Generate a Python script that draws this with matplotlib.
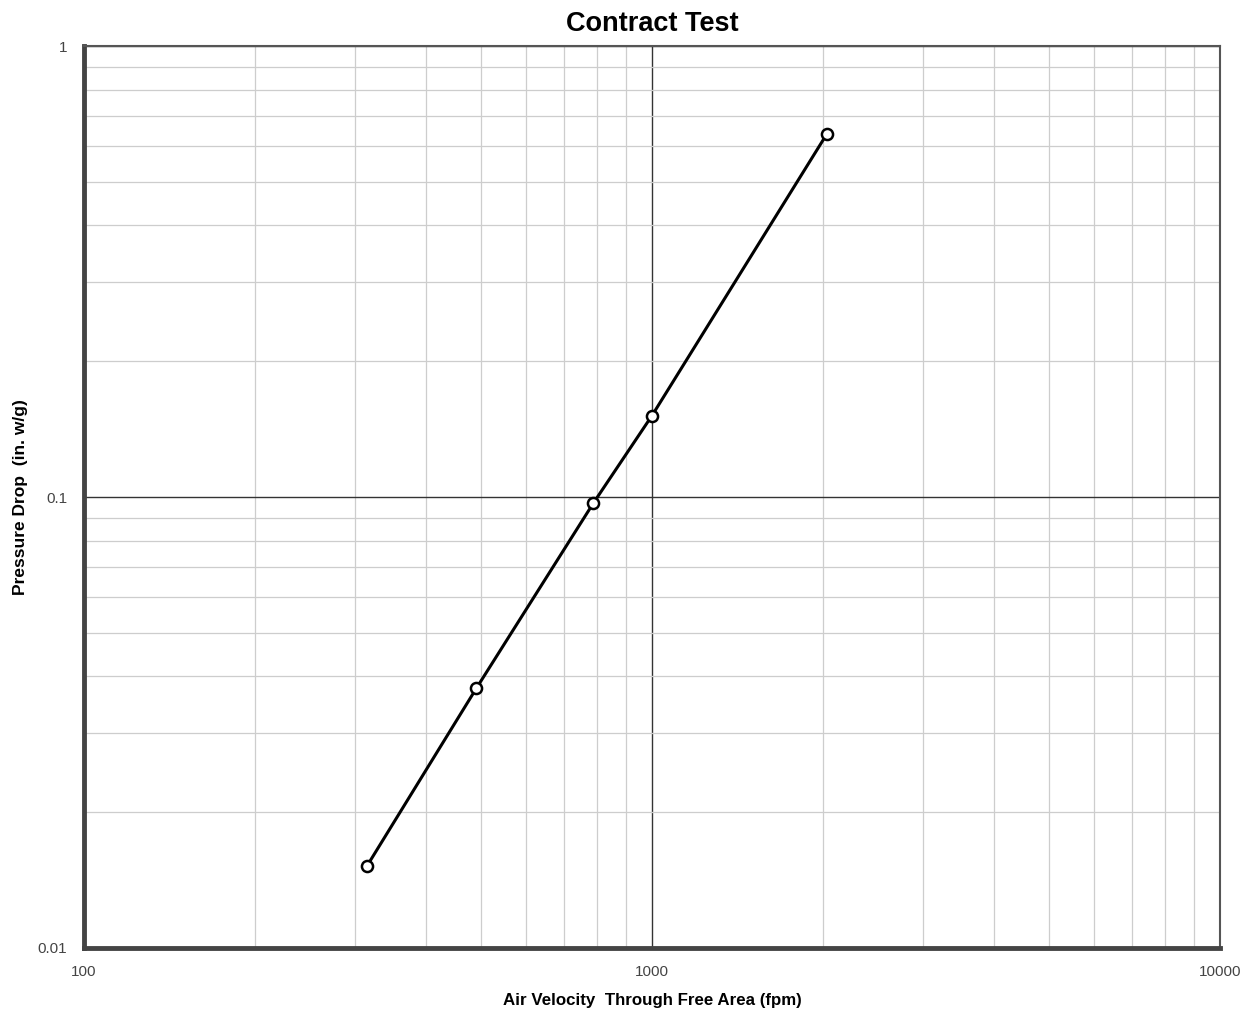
import matplotlib
matplotlib.use("Agg")
import matplotlib.pyplot as plt
from matplotlib.ticker import LogLocator, NullFormatter, FixedLocator, FixedFormatter

plt.rcParams["font.family"] = ["Liberation Sans", "DejaVu Sans"]

# Air velocity (fpm) and pressure drop (in. w/g)
velocity = [315, 491, 788, 1000, 2030]
pressure_drop = [0.0152, 0.0377, 0.0968, 0.1515, 0.637]

x_ticks = [100, 1000, 10000]
x_tick_labels = ["100", "1000", "10000"]
y_ticks = [0.01, 0.1, 1]
y_tick_labels = ["0.01", "0.1", "1"]

fig = plt.figure(figsize=(12.51, 10.14), dpi=100)
ax = fig.add_axes([0.0671, 0.0651, 0.9081, 0.8895])

ax.set_xscale("log")
ax.set_yscale("log")
ax.set_xlim(100, 10000)
ax.set_ylim(0.01, 1)

# grid: light minor, dark major
ax.xaxis.set_minor_locator(LogLocator(base=10, subs=range(2, 10)))
ax.yaxis.set_minor_locator(LogLocator(base=10, subs=range(2, 10)))
ax.xaxis.set_minor_formatter(NullFormatter())
ax.yaxis.set_minor_formatter(NullFormatter())
ax.grid(True, which="minor", color="#cdcdcd", linewidth=0.9)
ax.grid(True, which="major", color="#333333", linewidth=1.0)
ax.set_axisbelow(True)

ax.xaxis.set_major_locator(FixedLocator(x_ticks))
ax.xaxis.set_major_formatter(FixedFormatter(x_tick_labels))
ax.yaxis.set_major_locator(FixedLocator(y_ticks))
ax.yaxis.set_major_formatter(FixedFormatter(y_tick_labels))
ax.tick_params(which="both", length=0)
ax.tick_params(axis="x", pad=12, labelsize=11, labelcolor="#444444")
ax.tick_params(axis="y", pad=12, labelsize=11, labelcolor="#444444")

for side in ["left", "bottom"]:
    ax.spines[side].set_linewidth(3.5)
    ax.spines[side].set_color("#444444")
for side in ["top", "right"]:
    ax.spines[side].set_linewidth(1.5)
    ax.spines[side].set_color("#555555")

ax.plot(velocity, pressure_drop, color="black", linewidth=2.2,
        marker="o", markersize=8, markerfacecolor="white",
        markeredgecolor="black", markeredgewidth=1.8, zorder=5)

ax.set_title("Contract Test", fontsize=19.5, fontweight="bold", pad=11)
ax.set_xlabel("Air Velocity  Through Free Area (fpm)", fontsize=12.2,
              fontweight="bold", labelpad=10)
ax.set_ylabel("Pressure Drop  (in. w/g)", fontsize=12.5, fontweight="bold")
ax.yaxis.set_label_coords(-0.049, 0.5)

fig.savefig("out.png", dpi=100)
